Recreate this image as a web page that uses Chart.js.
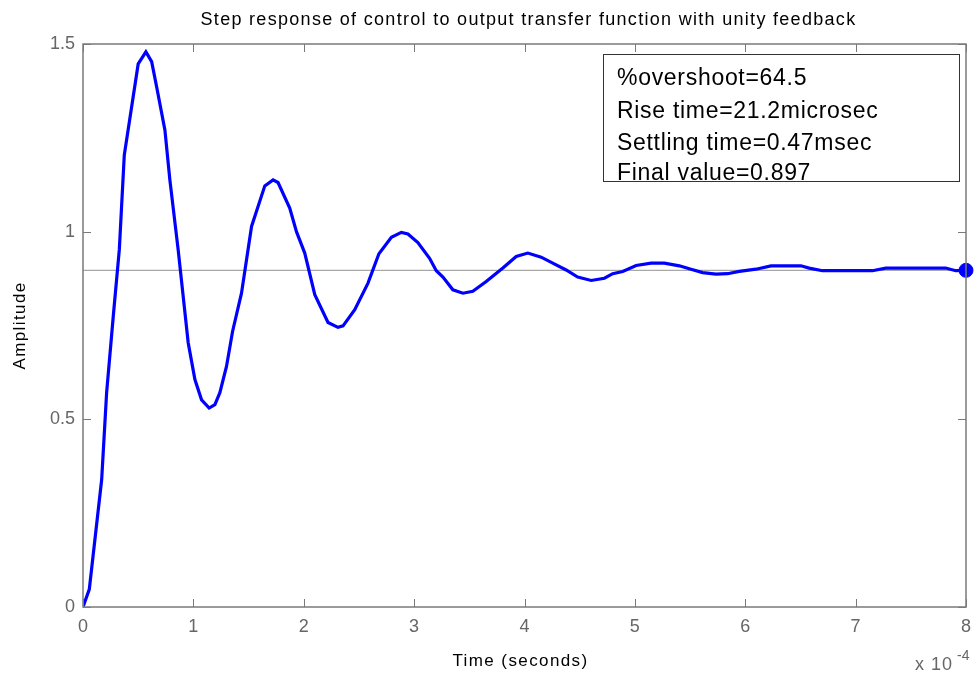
<!DOCTYPE html>
<html>
<head>
<meta charset="utf-8">
<title>Step response</title>
<script src="https://cdn.jsdelivr.net/npm/chart.js@4.4.1/dist/chart.umd.min.js"></script>
<style>
  html, body { margin: 0; padding: 0; background: #fff; }
  #stepChart { display: block; }
</style>
</head>
<body>
<canvas id="stepChart" width="974" height="682"></canvas>
<script>
// time in units of 1e-4 s (axis shows "x 10^-4")
const timeData = [
  0, 0.057, 0.169, 0.214, 0.274, 0.329, 0.374, 0.500, 0.570, 0.622,
  0.667, 0.742, 0.787, 0.862, 0.953, 1.014, 1.074, 1.143, 1.195, 1.240,
  1.300, 1.355, 1.436, 1.527, 1.647, 1.722, 1.767, 1.873, 1.934, 2.009,
  2.100, 2.220, 2.310, 2.356, 2.462, 2.582, 2.681, 2.794, 2.884, 2.944,
  3.034, 3.140, 3.201, 3.261, 3.351, 3.442, 3.532, 3.653, 3.804, 3.925,
  4.030, 4.151, 4.256, 4.377, 4.482, 4.604, 4.724, 4.799, 4.890, 5.011,
  5.147, 5.267, 5.403, 5.493, 5.614, 5.735, 5.840, 5.946, 6.097, 6.233,
  6.504, 6.579, 6.700, 7.152, 7.273, 7.816, 7.907, 8.0
];
const amplitude = [
  0, 0.047, 0.339, 0.571, 0.774, 0.952, 1.204, 1.447, 1.479, 1.453,
  1.386, 1.271, 1.138, 0.952, 0.704, 0.606, 0.552, 0.530, 0.539, 0.571,
  0.641, 0.734, 0.836, 1.014, 1.122, 1.138, 1.131, 1.063, 1.000, 0.943,
  0.832, 0.758, 0.745, 0.749, 0.792, 0.863, 0.941, 0.985, 0.998, 0.994,
  0.971, 0.929, 0.896, 0.879, 0.845, 0.836, 0.841, 0.867, 0.903, 0.934,
  0.943, 0.932, 0.916, 0.898, 0.879, 0.870, 0.876, 0.888, 0.894, 0.910,
  0.916, 0.916, 0.909, 0.901, 0.891, 0.887, 0.888, 0.894, 0.900, 0.909,
  0.909, 0.903, 0.896, 0.896, 0.903, 0.903, 0.896, 0.897
];
const finalValue = 0.897;

const xTickValues = [0, 1, 2, 3, 4, 5, 6, 7, 8];
const xTickLabels = ["0", "1", "2", "3", "4", "5", "6", "7", "8"];
const yTickValues = [0, 0.5, 1, 1.5];
const yTickLabels = ["0", "0.5", "1", "1.5"];

const titleText = "Step response of control to output transfer function with unity feedback";
const xTitle = "Time (seconds)";
const yTitle = "Amplitude";
const infoLines = [
  "%overshoot=64.5",
  "Rise time=21.2microsec",
  "Settling time=0.47msec",
  "Final value=0.897"
];

const FONT = "'Liberation Sans', Arial, sans-serif";
const AXIS_GRAY = "#7a7a7a";
const TEXT_GRAY = "#666666";

// frame, inward ticks and all the loose text (MATLAB style)
const matlabDecor = {
  id: "matlabDecor",
  afterDraw(chart) {
    const ctx = chart.ctx;
    const area = chart.chartArea;
    const xs = chart.scales.x;
    const ys = chart.scales.y;
    ctx.save();

    // box
    ctx.strokeStyle = AXIS_GRAY;
    ctx.lineWidth = 1.5;
    ctx.strokeRect(area.left, area.top, area.right - area.left, area.bottom - area.top);

    // ticks pointing inwards
    ctx.lineWidth = 1;
    const tickLen = 8;
    ctx.beginPath();
    xTickValues.forEach((v) => {
      const px = Math.round(xs.getPixelForValue(v)) + 0.5;
      ctx.moveTo(px, area.bottom);
      ctx.lineTo(px, area.bottom - tickLen);
      ctx.moveTo(px, area.top);
      ctx.lineTo(px, area.top + tickLen);
    });
    yTickValues.forEach((v) => {
      const py = Math.round(ys.getPixelForValue(v)) + 0.5;
      ctx.moveTo(area.left, py);
      ctx.lineTo(area.left + tickLen, py);
      ctx.moveTo(area.right, py);
      ctx.lineTo(area.right - tickLen, py);
    });
    ctx.stroke();

    // title
    ctx.fillStyle = "#000";
    ctx.textAlign = "center";
    ctx.textBaseline = "middle";
    ctx.font = "18px " + FONT;
    ctx.letterSpacing = "1.3px";
    ctx.fillText(titleText, (area.left + area.right) / 2 + 4, 20);

    // axis titles
    ctx.font = "17px " + FONT;
    ctx.letterSpacing = "1.4px";
    ctx.fillText(xTitle, (area.left + area.right) / 2 - 4, 661);
    ctx.save();
    ctx.translate(20, (area.top + area.bottom) / 2);
    ctx.rotate(-Math.PI / 2);
    ctx.fillText(yTitle, 0, 0);
    ctx.restore();

    // x multiplier
    ctx.fillStyle = TEXT_GRAY;
    ctx.textAlign = "left";
    ctx.font = "18px " + FONT;
    ctx.letterSpacing = "1px";
    ctx.fillText("x 10", 915, 665);
    ctx.font = "14px " + FONT;
    ctx.letterSpacing = "0px";
    ctx.fillText("-4", 957, 656);

    // info box
    const bx = 603.5, by = 54.5, bw = 356, bh = 127;
    ctx.fillStyle = "#fff";
    ctx.fillRect(bx, by, bw, bh);
    ctx.strokeStyle = "#333";
    ctx.lineWidth = 1;
    ctx.strokeRect(bx, by, bw, bh);
    ctx.fillStyle = "#000";
    ctx.font = "23px " + FONT;
    ctx.letterSpacing = "0.7px";
    ctx.textBaseline = "alphabetic";
    const baselines = [85, 118, 150, 180];
    infoLines.forEach((line, i) => {
      ctx.fillText(line, 617, baselines[i]);
    });

    ctx.restore();
  }
};

const lastIdx = timeData.length - 1;

new Chart(document.getElementById("stepChart"), {
  type: "line",
  data: {
    datasets: [
      {
        // end-of-response marker
        data: [{ x: timeData[lastIdx], y: amplitude[lastIdx] }],
        showLine: false,
        pointRadius: 7,
        pointBackgroundColor: "#0000ff",
        pointBorderColor: "#0000ff",
        clip: false,
        order: 0
      },
      {
        data: timeData.map((t, i) => ({ x: t, y: amplitude[i] })),
        borderColor: "#0000ff",
        borderWidth: 3.2,
        pointRadius: 0,
        tension: 0,
        fill: false,
        order: 1
      },
      {
        // final value reference line
        data: [{ x: xTickValues[0], y: finalValue }, { x: xTickValues[xTickValues.length - 1], y: finalValue }],
        borderColor: "#a8a8a8",
        borderWidth: 1.3,
        pointRadius: 0,
        fill: false,
        order: 2
      }
    ]
  },
  options: {
    responsive: false,
    animation: false,
    devicePixelRatio: 1,
    layout: {
      padding: { top: 44, right: 6, left: 0, bottom: 0 }
    },
    plugins: {
      legend: { display: false },
      tooltip: { enabled: false },
      title: { display: false }
    },
    scales: {
      x: {
        type: "linear",
        min: 0,
        max: 8,
        grid: { display: false, drawTicks: false },
        border: { display: false },
        afterBuildTicks: (scale) => {
          scale.ticks = xTickValues.map((v) => ({ value: v }));
        },
        afterFit: (scale) => {
          scale.height = 75;
          scale.paddingLeft = 0;
          scale.paddingRight = 0;
        },
        ticks: {
          autoSkip: false,
          maxRotation: 0,
          padding: 9,
          color: TEXT_GRAY,
          font: { family: FONT, size: 18 },
          callback: (v, i) => xTickLabels[i]
        }
      },
      y: {
        type: "linear",
        min: 0,
        max: 1.5,
        grid: { display: false, drawTicks: false },
        border: { display: false },
        afterBuildTicks: (scale) => {
          scale.ticks = yTickValues.map((v) => ({ value: v }));
        },
        afterFit: (scale) => {
          scale.width = 83;
          scale.paddingTop = 0;
          scale.paddingBottom = 0;
        },
        ticks: {
          autoSkip: false,
          padding: 8,
          color: TEXT_GRAY,
          font: { family: FONT, size: 18 },
          callback: (v, i) => yTickLabels[i]
        }
      }
    }
  },
  plugins: [matlabDecor]
});
</script>
</body>
</html>
